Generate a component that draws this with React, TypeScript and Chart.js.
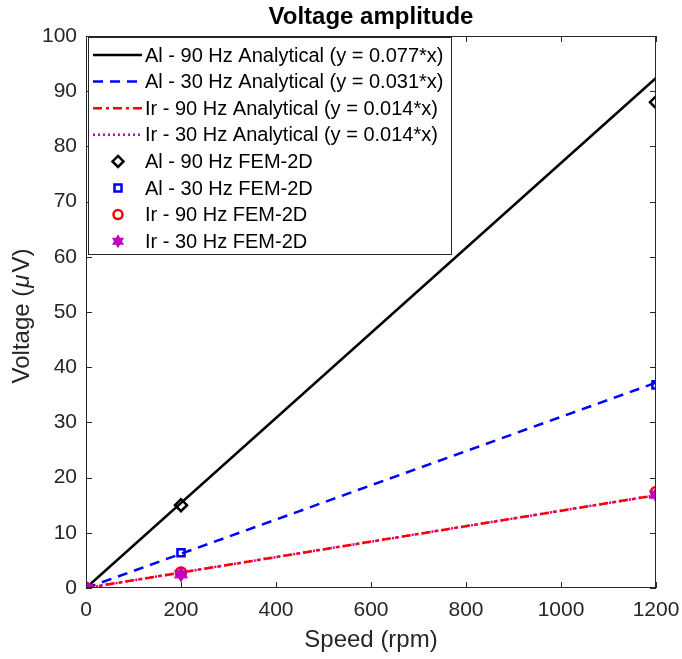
import React, { useEffect, useRef } from "react";
import { Chart, registerables } from "chart.js";

Chart.register(...registerables);

// ---- data ----
const speedAnalytical = [0, 1200];
const al90Analytical = [0, 92.4];
const al30Analytical = [0, 37.2];
const ir90Analytical = [0, 16.8];
const ir30Analytical = [0, 16.8];

const speedFem = [0, 200, 1200];
const al90Fem = [0, 15.0, 88.0];
const al30Fem = [0, 6.4, 36.8];
const ir90Fem = [0, 2.8, 17.4];
const ir30Fem = [0, 2.5, 16.9];

const xTicks = [0, 200, 400, 600, 800, 1000, 1200];
const yTicks = [0, 10, 20, 30, 40, 50, 60, 70, 80, 90, 100];

const legendLabels = [
  "Al - 90 Hz Analytical (y = 0.077*x)",
  "Al - 30 Hz Analytical (y = 0.031*x)",
  "Ir - 90 Hz Analytical (y = 0.014*x)",
  "Ir - 30 Hz Analytical (y = 0.014*x)",
  "Al - 90 Hz FEM-2D",
  "Al - 30 Hz FEM-2D",
  "Ir - 90 Hz FEM-2D",
  "Ir - 30 Hz FEM-2D",
];

const titleText = "Voltage amplitude";
const xLabel = "Speed (rpm)";

const FONT = "'Liberation Sans', Arial, Helvetica, sans-serif";
const AXIS = "#262626";
const BLACK = "#000000";
const BLUE = "#0000ff";
const RED = "#ff0000";
const MAGENTA = "#bf00bf";

function pts(xs: number[], ys: number[]) {
  return xs.map((x, i) => ({ x, y: ys[i] }));
}

function hexagramPath(ctx: CanvasRenderingContext2D, cx: number, cy: number, r: number) {
  ctx.beginPath();
  for (let i = 0; i < 12; i++) {
    const ang = -Math.PI / 2 + (i * Math.PI) / 6;
    const rr = i % 2 === 0 ? r : r * 0.577;
    const x = cx + rr * Math.cos(ang);
    const y = cy + rr * Math.sin(ang);
    if (i === 0) ctx.moveTo(x, y);
    else ctx.lineTo(x, y);
  }
  ctx.closePath();
}

function makeStar(color: string) {
  const c = document.createElement("canvas");
  c.width = 16;
  c.height = 16;
  const g = c.getContext("2d")!;
  hexagramPath(g, 8, 8, 7.5);
  g.fillStyle = color;
  g.fill();
  g.strokeStyle = color;
  g.lineWidth = 1;
  g.stroke();
  return c;
}

const matlabPlugin = {
  id: "matlabDecor",
  afterDraw(chart: any) {
    const ctx: CanvasRenderingContext2D = chart.ctx;
    const { left, right, top, bottom } = chart.chartArea;
    const xs = chart.scales.x;
    const ys = chart.scales.y;
    ctx.save();

    // box
    ctx.strokeStyle = AXIS;
    ctx.lineWidth = 1;
    ctx.strokeRect(left + 0.5, top + 0.5, right - left - 1, bottom - top - 1);

    // inward ticks
    const tl = 6;
    ctx.beginPath();
    xTicks.forEach((v) => {
      const px = Math.round(xs.getPixelForValue(v)) + 0.5;
      ctx.moveTo(px, bottom);
      ctx.lineTo(px, bottom - tl);
      ctx.moveTo(px, top);
      ctx.lineTo(px, top + tl);
    });
    yTicks.forEach((v) => {
      const py = Math.round(ys.getPixelForValue(v)) + 0.5;
      ctx.moveTo(left, py);
      ctx.lineTo(left + tl, py);
      ctx.moveTo(right, py);
      ctx.lineTo(right - tl, py);
    });
    ctx.stroke();

    // title
    ctx.fillStyle = BLACK;
    ctx.font = `bold 24px ${FONT}`;
    ctx.textAlign = "center";
    ctx.textBaseline = "middle";
    ctx.fillText(titleText, (left + right) / 2, 17);

    // x label
    ctx.fillStyle = AXIS;
    ctx.font = `24px ${FONT}`;
    ctx.fillText(xLabel, (left + right) / 2, 640);

    // y label with italic mu
    ctx.save();
    ctx.translate(22, (top + bottom) / 2 + 4);
    ctx.rotate(-Math.PI / 2);
    const p1 = "Voltage (";
    const p2 = "\u03BC";
    const p3 = "V)";
    ctx.font = `24px ${FONT}`;
    const w1 = ctx.measureText(p1).width;
    const w3 = ctx.measureText(p3).width;
    ctx.font = `italic 24px ${FONT}`;
    const w2 = ctx.measureText(p2).width + 3;
    const total = w1 + w2 + w3;
    let cx = -total / 2;
    ctx.textAlign = "left";
    ctx.font = `24px ${FONT}`;
    ctx.fillText(p1, cx, 0);
    cx += w1;
    ctx.font = `italic 24px ${FONT}`;
    ctx.fillText(p2, cx + 1, 0);
    cx += w2;
    ctx.font = `24px ${FONT}`;
    ctx.fillText(p3, cx, 0);
    ctx.restore();

    // legend
    const lx = left + 2;
    const ly = top + 1;
    const lw = 364;
    const lh = 218;
    ctx.fillStyle = "#ffffff";
    ctx.fillRect(lx, ly, lw, lh);
    ctx.strokeStyle = AXIS;
    ctx.lineWidth = 1;
    ctx.strokeRect(lx + 0.5, ly + 0.5, lw - 1, lh - 1);

    const rowY = (i: number) => ly + 18 + i * 26.6;
    const x0 = lx + 5;
    const x1 = lx + 54;
    const mx = lx + 30;
    const tx = lx + 57;
    const ds = chart.data.datasets;
    ctx.font = `20px ${FONT}`;
    ctx.textBaseline = "middle";
    ctx.textAlign = "left";
    for (let i = 0; i < legendLabels.length; i++) {
      const y = rowY(i);
      const d = ds[i];
      if (i < 4) {
        ctx.save();
        ctx.strokeStyle = d.borderColor;
        ctx.lineWidth = d.borderWidth;
        ctx.setLineDash(d.borderDash || []);
        ctx.beginPath();
        ctx.moveTo(x0, y);
        ctx.lineTo(x1, y);
        ctx.stroke();
        ctx.restore();
      } else {
        ctx.save();
        ctx.strokeStyle = d.borderColor;
        ctx.lineWidth = 2.5;
        if (i === 4) {
          ctx.beginPath();
          ctx.moveTo(mx, y - 5.5);
          ctx.lineTo(mx + 5.5, y);
          ctx.lineTo(mx, y + 5.5);
          ctx.lineTo(mx - 5.5, y);
          ctx.closePath();
          ctx.stroke();
        } else if (i === 5) {
          ctx.strokeRect(mx - 3.5, y - 3.5, 7, 7);
        } else if (i === 6) {
          ctx.beginPath();
          ctx.arc(mx, y, 4.5, 0, Math.PI * 2);
          ctx.stroke();
        } else {
          hexagramPath(ctx, mx, y, 7);
          ctx.fillStyle = MAGENTA;
          ctx.fill();
        }
        ctx.restore();
      }
      ctx.fillStyle = BLACK;
      ctx.fillText(legendLabels[i], tx, y + 1);
    }
    ctx.restore();
  },
};

export default function App() {
  const ref = useRef<HTMLCanvasElement | null>(null);

  useEffect(() => {
    if (!ref.current) return;
    const star = makeStar(MAGENTA);
    const lineDs = (label: string, ys: number[], color: string, dash: number[], order: number) => ({
      label,
      data: pts(speedAnalytical, ys),
      showLine: true,
      borderColor: color,
      backgroundColor: color,
      borderWidth: 2.5,
      borderDash: dash,
      pointRadius: 0,
      pointHoverRadius: 0,
      fill: false,
      order,
    });
    const chart = new Chart(ref.current, {
      type: "scatter",
      data: {
        datasets: [
          lineDs(legendLabels[0], al90Analytical, BLACK, [], 10),
          lineDs(legendLabels[1], al30Analytical, BLUE, [10, 7], 9),
          lineDs(legendLabels[2], ir90Analytical, RED, [9, 4, 3, 4], 7),
          lineDs(legendLabels[3], ir30Analytical, MAGENTA, [2, 3], 8),
          {
            label: legendLabels[4],
            data: pts(speedFem, al90Fem),
            showLine: false,
            pointStyle: "rectRot",
            pointRadius: 6,
            pointBorderWidth: 2.5,
            borderColor: BLACK,
            pointBorderColor: BLACK,
            pointBackgroundColor: "rgba(0,0,0,0)",
            order: 4,
          },
          {
            label: legendLabels[5],
            data: pts(speedFem, al30Fem),
            showLine: false,
            pointStyle: "rect",
            pointRadius: 5,
            pointBorderWidth: 2.5,
            borderColor: BLUE,
            pointBorderColor: BLUE,
            pointBackgroundColor: "rgba(0,0,0,0)",
            order: 3,
          },
          {
            label: legendLabels[6],
            data: pts(speedFem, ir90Fem),
            showLine: false,
            pointStyle: "circle",
            pointRadius: 5,
            pointBorderWidth: 2.5,
            borderColor: RED,
            pointBorderColor: RED,
            pointBackgroundColor: "rgba(0,0,0,0)",
            order: 2,
          },
          {
            label: legendLabels[7],
            data: pts(speedFem, ir30Fem),
            showLine: false,
            pointStyle: star as any,
            pointRadius: 8,
            borderColor: MAGENTA,
            pointBackgroundColor: MAGENTA,
            order: 1,
          },
        ] as any,
      },
      options: {
        animation: false,
        responsive: false,
        maintainAspectRatio: false,
        layout: { padding: { top: 36, right: 26, left: 0, bottom: 0 } },
        plugins: {
          legend: { display: false },
          title: { display: false },
          tooltip: { enabled: false },
        },
        scales: {
          x: {
            type: "linear",
            min: 0,
            max: 1200,
            grid: { display: false, drawTicks: false },
            border: { display: false },
            afterBuildTicks: (s: any) => {
              s.ticks = xTicks.map((v) => ({ value: v }));
            },
            afterFit: (s: any) => {
              s.height = 71;
              s.paddingLeft = 0;
              s.paddingRight = 0;
            },
            ticks: {
              color: AXIS,
              font: { family: FONT, size: 21 },
              padding: 10,
              maxRotation: 0,
              autoSkip: false,
              callback: (v: any) => String(v),
            },
          },
          y: {
            type: "linear",
            min: 0,
            max: 100,
            grid: { display: false, drawTicks: false },
            border: { display: false },
            afterBuildTicks: (s: any) => {
              s.ticks = yTicks.map((v) => ({ value: v }));
            },
            afterFit: (s: any) => {
              s.width = 86;
              s.paddingTop = 0;
              s.paddingBottom = 0;
            },
            ticks: {
              color: AXIS,
              font: { family: FONT, size: 21 },
              padding: 9,
              autoSkip: false,
              callback: (v: any) => String(v),
            },
          },
        },
      } as any,
      plugins: [matlabPlugin],
    });
    return () => chart.destroy();
  }, []);

  return (
    <div style={{ position: "fixed", left: 0, top: 0, width: 682, height: 659, background: "#fff" }}>
      <canvas ref={ref} width={682} height={659} style={{ width: 682, height: 659, display: "block" }} />
    </div>
  );
}
